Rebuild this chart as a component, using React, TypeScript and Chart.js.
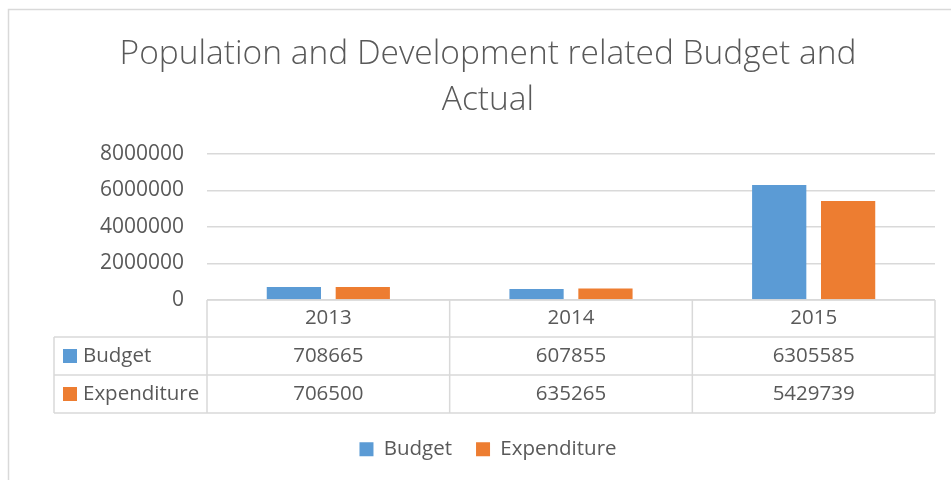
import React, { useEffect, useRef } from "react";
import { Chart, registerables } from "chart.js";

Chart.register(...registerables);

const titleLines = ["Population and Development related Budget and", "Actual"];
const categories = ["2013", "2014", "2015"];
const seriesNames = ["Budget", "Expenditure"];
const budgetValues = [708665, 607855, 6305585];
const expenditureValues = [706500, 635265, 5429739];
const yTicks = [0, 2000000, 4000000, 6000000, 8000000];

const BLUE = "#5B9BD5";
const ORANGE = "#ED7D31";
const TEXT = "#595959";
const LINE = "#D9D9D9";
const FONT = "'Open Sans', Lato, sans-serif";
const PAD_LEFT = 41;

const frameAndTable = {
  id: "frameAndTable",
  beforeDraw(chart: any) {
    const ctx = chart.ctx;
    ctx.save();
    ctx.fillStyle = "#ffffff";
    ctx.fillRect(0, 0, chart.width, chart.height);
    ctx.strokeStyle = LINE;
    ctx.lineWidth = 1.5;
    ctx.beginPath();
    ctx.moveTo(8.5, chart.height);
    ctx.lineTo(8.5, 9.5);
    ctx.lineTo(chart.width, 9.5);
    ctx.stroke();
    ctx.restore();
  },
  afterDraw(chart: any) {
    const ctx = chart.ctx;
    const xs = chart.scales.x;
    const area = chart.chartArea;
    const colW = (area.right - area.left) / categories.length;
    const top = area.bottom;
    const headerH = 37;
    const rowH = 38;
    const legendLeft = 54;
    const rowsY = [top, top + headerH, top + headerH + rowH, top + headerH + 2 * rowH];
    const bottom = rowsY[3];
    ctx.save();
    ctx.strokeStyle = LINE;
    ctx.lineWidth = 1.5;
    ctx.beginPath();
    ctx.moveTo(area.left, rowsY[0]);
    ctx.lineTo(area.right, rowsY[0]);
    for (let r = 1; r < 4; r++) {
      ctx.moveTo(legendLeft, rowsY[r]);
      ctx.lineTo(area.right, rowsY[r]);
    }
    ctx.moveTo(legendLeft, rowsY[1]);
    ctx.lineTo(legendLeft, bottom);
    for (let c = 0; c <= categories.length; c++) {
      const x = area.left + c * colW;
      ctx.moveTo(x, rowsY[0]);
      ctx.lineTo(x, bottom);
    }
    ctx.stroke();

    ctx.fillStyle = TEXT;
    ctx.font = `20.5px ${FONT}`;
    ctx.textAlign = "center";
    ctx.textBaseline = "middle";
    const seriesData = [budgetValues, expenditureValues];
    categories.forEach((cat, i) => {
      const cx = xs.getPixelForValue(i);
      ctx.fillText(cat, cx, (rowsY[0] + rowsY[1]) / 2);
      seriesData.forEach((vals, s) => {
        ctx.fillText(String(vals[i]), cx, (rowsY[s + 1] + rowsY[s + 2]) / 2);
      });
    });
    const colors = [BLUE, ORANGE];
    seriesNames.forEach((name, s) => {
      const cy = (rowsY[s + 1] + rowsY[s + 2]) / 2;
      ctx.fillStyle = colors[s];
      ctx.fillRect(63, cy - 7, 14, 14);
      ctx.fillStyle = TEXT;
      ctx.textAlign = "left";
      ctx.fillText(name, 83, cy);
    });
    ctx.restore();
  },
};

export default function App() {
  const ref = useRef<HTMLCanvasElement | null>(null);
  useEffect(() => {
    if (!ref.current) return;
    const chart = new Chart(ref.current, {
      type: "bar",
      data: {
        labels: categories,
        datasets: [
          { label: seriesNames[0], data: budgetValues, backgroundColor: BLUE },
          { label: seriesNames[1], data: expenditureValues, backgroundColor: ORANGE },
        ],
      },
      plugins: [frameAndTable],
      options: {
        responsive: false,
        animation: false,
        devicePixelRatio: 1,
        layout: { padding: { left: PAD_LEFT, right: 16, top: 0, bottom: 10.5 } },
        datasets: { bar: { categoryPercentage: 0.568, barPercentage: 0.787 } },
        scales: {
          x: {
            grid: { display: false },
            border: { display: false },
            ticks: { display: false },
            afterFit(scale: any) {
              scale.height = 115;
            },
          },
          y: {
            min: 0,
            max: 8000000,
            afterBuildTicks(scale: any) {
              scale.ticks = yTicks.map((v) => ({ value: v }));
            },
            grid: { color: LINE, lineWidth: 1.5, drawTicks: false },
            border: { display: false },
            ticks: {
              color: TEXT,
              font: { family: FONT, size: 21 },
              padding: 23,
              callback: (v: any) => String(v),
            },
            afterFit(scale: any) {
              scale.width = 207 - PAD_LEFT;
            },
          },
        },
        plugins: {
          title: {
            display: true,
            text: titleLines,
            color: TEXT,
            font: { family: FONT, size: 33.5, weight: 300, lineHeight: 46 / 33.5 },
            padding: { top: 31, bottom: 31 },
          },
          legend: {
            position: "bottom",
            labels: {
              color: TEXT,
              font: { family: FONT, size: 20.5 },
              boxWidth: 14,
              boxHeight: 14,
              padding: 24,
            },
          },
          tooltip: { enabled: false },
        },
      },
    });
    return () => chart.destroy();
  }, []);
  return (
    <div style={{ position: "absolute", left: 0, top: 0, width: 951, height: 480 }}>
      <canvas ref={ref} width={951} height={480} style={{ width: 951, height: 480, display: "block" }} />
    </div>
  );
}
